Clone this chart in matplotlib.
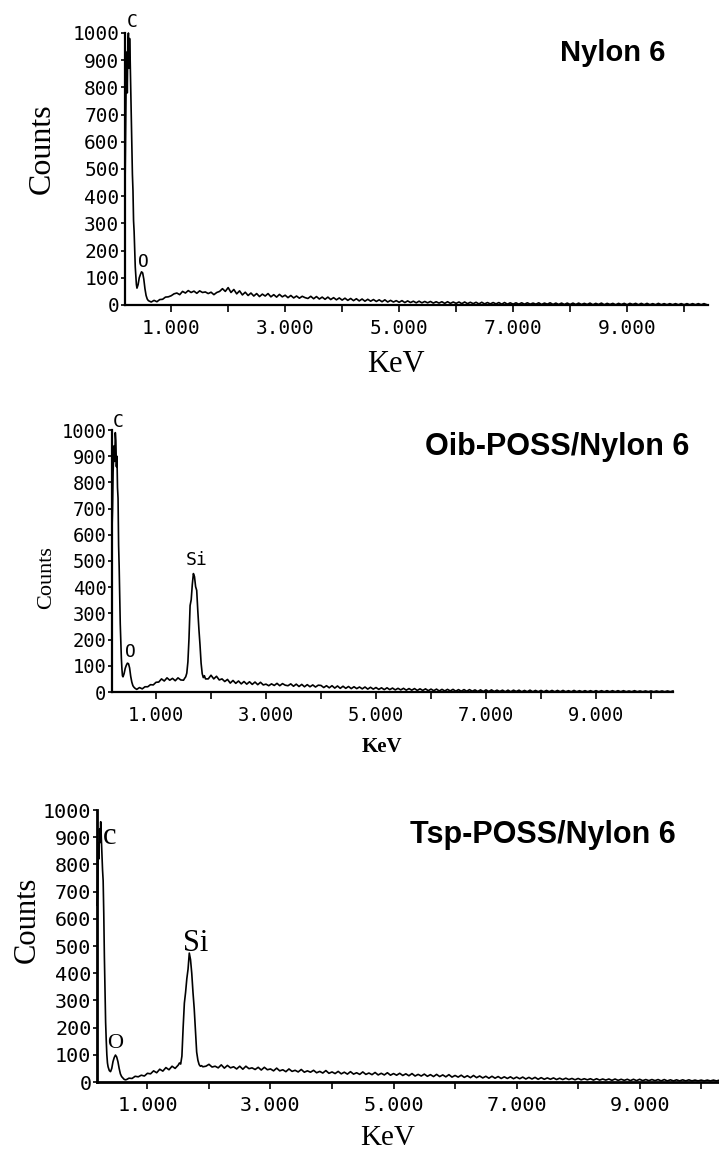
import numpy as np
import matplotlib
matplotlib.use('Agg')
import matplotlib.pyplot as plt

# ---------------------------------------------------------------
# datos de los espectros EDS (KeV, Counts)
# ---------------------------------------------------------------

# zona de picos C y O (0.2 - 1 KeV) para Nylon 6
nyLowE = [0.19, 0.20, 0.21, 0.22, 0.23, 0.24, 0.25, 0.26, 0.27, 0.28, 0.29, 0.30,
          0.31, 0.32, 0.33, 0.34, 0.35, 0.36, 0.37, 0.38, 0.39, 0.40, 0.42, 0.44,
          0.46, 0.48, 0.50, 0.52, 0.54, 0.56, 0.58, 0.60, 0.65, 0.70, 0.75, 0.80,
          0.85, 0.90, 0.95]
nyLowC = [420, 640, 820, 930, 780, 960, 1000, 870, 980, 910, 800, 700,
          560, 480, 420, 310, 270, 200, 140, 110, 75, 62, 75, 100,
          112, 122, 118, 95, 60, 35, 22, 16, 11, 17, 12, 20,
          21, 29, 30]
# fondo de 1.00 a 10.40 KeV (paso de canal 0.05 KeV)
nyBgC = [34, 41, 44, 38, 50, 44, 53, 46, 51, 43, 52, 46, 48, 42, 47, 38, 46, 50, 60, 50,
         64, 46, 57, 41, 52, 37, 47, 35, 44, 33, 42, 31, 40, 33, 42, 30, 38, 29, 39, 30,
         36, 27, 35, 26, 33, 25, 32, 27, 24, 32, 23, 31, 22, 29, 21, 29, 20, 27, 19, 26,
         18, 25, 17, 24, 16, 23, 15, 22, 14, 21, 14, 20, 13, 19, 12, 19, 11, 17, 11, 16,
         10, 16, 9, 15, 9, 14, 8, 14, 8, 13, 8, 13, 7, 12, 7, 12, 6, 12, 6, 11,
         6, 11, 5, 11, 5, 10, 5, 10, 4, 10, 4, 9, 4, 9, 4, 9, 3, 9, 3, 8,
         3, 8, 3, 8, 3, 8, 3, 7, 3, 8, 2, 7, 3, 8, 2, 7, 2, 7, 2, 7,
         2, 7, 2, 7, 2, 6, 2, 7, 1, 6, 2, 7, 1, 6, 2, 6, 1, 6, 2, 6,
         1, 6, 2, 6, 1, 6, 1, 6, 1, 5, 1, 6, 1, 5, 1, 5, 1, 5, 1, 5,
         1, 5, 1, 5, 1, 5, 1, 5, 1]

# Oib-POSS/Nylon 6
oibLowE = [0.20, 0.21, 0.22, 0.23, 0.24, 0.25, 0.26, 0.27, 0.28, 0.29, 0.30, 0.31,
           0.32, 0.33, 0.34, 0.35, 0.36, 0.37, 0.38, 0.39, 0.40, 0.42, 0.44, 0.46,
           0.48, 0.50, 0.52, 0.54, 0.56, 0.58, 0.60, 0.62, 0.65, 0.70, 0.75, 0.80,
           0.85, 0.90, 0.95, 1.00, 1.05, 1.10, 1.15, 1.20, 1.25, 1.30, 1.35, 1.40,
           1.45]
oibLowC = [620, 700, 840, 900, 940, 880, 990, 960, 860, 900, 780, 740,
           560, 480, 360, 260, 190, 130, 90, 62, 58, 70, 90, 102,
           110, 108, 92, 60, 38, 24, 18, 14, 10, 17, 12, 20,
           20, 28, 27, 37, 38, 50, 42, 54, 45, 52, 43, 54,
           46]
oibSiE = [1.50, 1.52, 1.54, 1.56, 1.58, 1.60, 1.62, 1.64, 1.66, 1.68, 1.70,
          1.72, 1.74, 1.76, 1.78, 1.80, 1.82, 1.84, 1.86, 1.88, 1.90]
oibSiC = [45, 52, 58, 72, 115, 205, 330, 352, 410, 452, 440,
          402, 388, 310, 240, 180, 110, 70, 55, 62, 50]
# fondo de 1.95 a 10.40 KeV
oibBgC = [50,
          64, 50, 60, 46, 50, 40, 48, 34, 44, 33, 42, 31, 40, 30, 39, 29, 38, 28, 37, 27,
          30, 24, 31, 25, 33, 24, 32, 26, 24, 31, 22, 30, 21, 29, 20, 28, 20, 27, 19, 26,
          25, 17, 24, 16, 24, 15, 23, 14, 22, 14, 21, 13, 20, 13, 19, 12, 19, 11, 18, 11,
          17, 10, 16, 9, 16, 9, 15, 8, 14, 8, 14, 7, 13, 7, 13, 6, 12, 6, 12, 5,
          11, 5, 11, 4, 10, 4, 10, 4, 10, 3, 9, 3, 9, 3, 9, 3, 8, 2, 8, 2,
          8, 2, 8, 2, 7, 2, 7, 1, 7, 1, 7, 2, 7, 1, 6, 1, 7, 1, 6, 1,
          6, 1, 6, 1, 6, 1, 6, 1, 6, 1, 5, 1, 6, 1, 5, 1, 5, 1, 5, 1,
          5, 1, 5, 1, 5, 1, 5, 1, 5, 1, 5, 1, 4, 1, 5, 1, 4, 1, 4, 1,
          4, 1, 4, 1, 4, 1, 4, 1, 4]

# Tsp-POSS/Nylon 6
tspLowE = [0.18, 0.19, 0.20, 0.21, 0.22, 0.23, 0.24, 0.25, 0.26, 0.27, 0.28, 0.29,
           0.30, 0.31, 0.32, 0.33, 0.34, 0.35, 0.36, 0.38, 0.40, 0.42, 0.44, 0.46,
           0.48, 0.50, 0.52, 0.54, 0.56, 0.58, 0.60, 0.62, 0.64, 0.66, 0.70, 0.75,
           0.80, 0.85, 0.90, 0.95, 1.00, 1.05, 1.10, 1.15, 1.20, 1.25, 1.30, 1.35,
           1.40, 1.45]
tspLowC = [650, 700, 880, 820, 930, 880, 957, 900, 850, 780, 740, 620,
           460, 330, 220, 154, 100, 70, 56, 42, 38, 50, 75, 90,
           99, 92, 75, 50, 30, 20, 15, 10, 8, 9, 14, 13,
           21, 19, 25, 22, 32, 30, 41, 34, 47, 40, 53, 45,
           58, 50]
tspSiE = [1.50, 1.52, 1.54, 1.56, 1.58, 1.60, 1.62, 1.64, 1.66, 1.68, 1.70,
          1.72, 1.74, 1.76, 1.78, 1.80, 1.82, 1.84, 1.86, 1.88, 1.90]
tspSiC = [62, 70, 66, 95, 200, 290, 330, 380, 415, 474, 450,
          400, 330, 270, 190, 110, 80, 64, 58, 60, 56]
tspBgC = [58,
          65, 55, 58, 52, 63, 51, 61, 52, 56, 48, 58, 47, 58, 49, 52, 46, 54, 44, 54, 45,
          48, 41, 51, 41, 45, 38, 48, 39, 43, 37, 46, 36, 41, 36, 43, 34, 39, 33, 42, 32,
          37, 31, 39, 30, 36, 29, 38, 29, 34, 28, 37, 28, 33, 27, 35, 26, 32, 26, 34, 25,
          31, 25, 32, 24, 30, 23, 31, 22, 28, 22, 29, 21, 27, 20, 28, 20, 26, 19, 27, 18,
          24, 18, 25, 17, 23, 16, 24, 16, 22, 15, 21, 14, 21, 14, 20, 13, 19, 13, 19, 12,
          18, 12, 18, 11, 17, 11, 17, 10, 16, 10, 15, 10, 15, 9, 14, 9, 14, 9, 13, 8,
          13, 8, 12, 8, 12, 7, 12, 7, 11, 7, 11, 6, 11, 6, 10, 6, 10, 5, 10, 5,
          10, 5, 9, 5, 9, 5, 9, 4, 9, 4, 8, 4, 8, 4, 8, 4, 8, 4, 7, 4,
          7, 4, 7, 4, 7, 4, 7, 3, 7]

# ticks del eje x
xTicks      = [1, 2, 3, 4, 5, 6, 7, 8, 9, 10]
xTickLabels = ['1.000', '', '3.000', '', '5.000', '', '7.000', '', '9.000', '']
yTicks      = [0, 100, 200, 300, 400, 500, 600, 700, 800, 900, 1000]


def canales(start, values, step=0.05):
    # energías de canal con paso fijo para los datos de fondo
    return list(np.round(start + step * np.arange(len(values)), 3))


# armado de cada espectro completo
nyE  = nyLowE + canales(1.00, nyBgC)
nyC  = nyLowC + nyBgC
oibE = oibLowE + oibSiE + canales(1.95, oibBgC)
oibC = oibLowC + oibSiC + oibBgC
tspE = tspLowE + tspSiE + canales(1.95, tspBgC)
tspC = tspLowC + tspSiC + tspBgC

W, H = 719, 1153
fig = plt.figure(figsize=(W / 100, H / 100), dpi=100)
fig.patch.set_facecolor('white')


def px(x, y):
    # convierte pixeles de la imagen a fracción de figura
    return x / W, 1 - y / H


def panel(
    box         ,   # (izq, arriba, der, abajo) en pixeles
    xlim        ,   # limites en x
    e, c        ,   # datos
    tickSize    ,   # tamaño de los ticks
    spineW      ,   # ancho de los ejes
    ):
    l, t, r, b = box
    ax = fig.add_axes([l / W, 1 - b / H, (r - l) / W, (b - t) / H])
    ax.plot(e, c, color='black', lw=1.2, clip_on=False)
    ax.set_xlim(xlim)
    ax.set_ylim(0, 1000)
    for s in ['top', 'right']:
        ax.spines[s].set_visible(False)
    for s in ['left', 'bottom']:
        ax.spines[s].set_linewidth(spineW)
    ax.set_xticks(xTicks)
    ax.set_xticklabels(xTickLabels)
    ax.set_yticks(yTicks)
    ax.set_yticklabels([str(v) for v in yTicks])
    ax.tick_params(axis='x', direction='out', length=5, width=1.2, pad=5,
                   labelsize=tickSize)
    ax.tick_params(axis='y', direction='out', length=3, width=1.2, pad=1,
                   labelsize=tickSize)
    for lbl in ax.get_xticklabels() + ax.get_yticklabels():
        lbl.set_family('DejaVu Sans Mono')
    ax.set_facecolor('none')
    return ax


# [1] Nylon 6
ax1 = panel((125, 33, 708, 305), (0.19, 10.42), nyE, nyC, 14, 1.6)
ax1.text(0.32, 1040, 'C', family='DejaVu Sans Mono', fontsize=13,
         ha='center', va='center', clip_on=False)
ax1.text(0.51, 158, 'O', family='DejaVu Sans Mono', fontsize=13,
         ha='center', va='center')
fig.text(*px(613, 53), 'Nylon 6', family='Liberation Sans', weight='bold',
         fontsize=21, ha='center', va='center')
fig.text(*px(42, 149), 'Counts', family='Liberation Serif', fontsize=23,
         rotation=90, ha='center', va='center')
fig.text(*px(396, 365), 'KeV', family='Liberation Serif', fontsize=22,
         ha='center', va='center')

# [2] Oib-POSS/Nylon 6
ax2 = panel((112, 430, 673, 692), (0.2, 10.4), oibE, oibC, 13.5, 1.6)
ax2.text(0.31, 1030, 'C', family='DejaVu Sans Mono', fontsize=13,
         ha='center', va='center', clip_on=False)
ax2.text(0.53, 153, 'O', family='DejaVu Sans Mono', fontsize=13,
         ha='center', va='center')
ax2.text(1.73, 504, 'Si', family='DejaVu Sans Mono', fontsize=13,
         ha='center', va='center')
fig.text(*px(557, 447), 'Oib-POSS/Nylon 6', family='Liberation Sans', weight='bold',
         fontsize=22, ha='center', va='center')
fig.text(*px(47, 578), 'Counts', family='Liberation Serif', fontsize=16,
         rotation=90, ha='center', va='center')
fig.text(*px(382, 747), 'KeV', family='Liberation Serif', weight='bold', fontsize=15,
         ha='center', va='center')

# [3] Tsp-POSS/Nylon 6
ax3 = panel((97, 810, 719, 1082), (0.18, 10.29), tspE, tspC, 14.5, 2.0)
ax3.text(0.39, 901, 'c', family='Liberation Serif', fontsize=22,
         ha='center', va='center')
ax3.text(0.48, 143, 'O', family='Liberation Serif', fontsize=16,
         ha='center', va='center')
ax3.text(1.78, 511, 'Si', family='Liberation Serif', fontsize=22,
         ha='center', va='center')
fig.text(*px(543, 835), 'Tsp-POSS/Nylon 6', family='Liberation Sans', weight='bold',
         fontsize=22, ha='center', va='center')
fig.text(*px(27, 920), 'Counts', family='Liberation Serif', fontsize=22,
         rotation=90, ha='center', va='center')
fig.text(*px(388, 1138), 'KeV', family='Liberation Serif', fontsize=21,
         ha='center', va='center')

fig.savefig('out.png', dpi=100, facecolor='white')
